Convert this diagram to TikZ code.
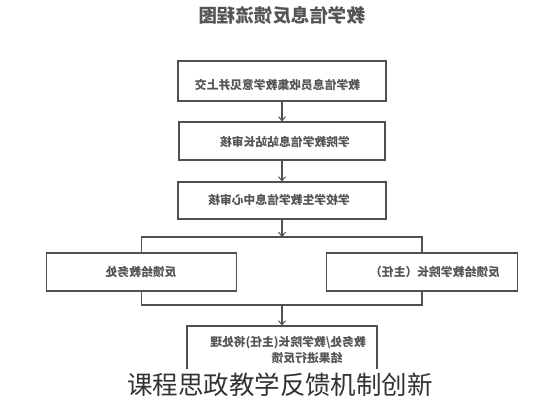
\documentclass[tikz,border=0pt]{standalone}
\usepackage{graphicx}
\usepackage{fontspec}
\setmainfont{Noto Sans CJK SC}
\usetikzlibrary{arrows.meta}
\definecolor{linegray}{HTML}{505050}
\definecolor{txtgray}{HTML}{555555}
\definecolor{capgray}{HTML}{333333}
\begin{document}
\begin{tikzpicture}[x=1pt,y=-1pt,
  boxnode/.style={draw=linegray, line width=1.1pt, fill=white, inner sep=0pt},
  lbl/.style={text=txtgray, font=\fontsize{11.8}{14}\selectfont\bfseries, inner sep=0pt},
  conn/.style={draw=linegray, line width=1.1pt},
  arr/.style={conn, -{Straight Barb[length=4pt,width=7pt,line width=1pt]}}]
\useasboundingbox (0,0) rectangle (560,400);
% title
\node[text=txtgray, font=\fontsize{18.5}{22}\selectfont\bfseries, inner sep=0pt] (title) at (282,15) {\reflectbox{教学信息反馈流程图}};
% boxes
\node[boxnode, minimum width=208pt, minimum height=40pt] (b1) at (282,81) {};
\node[boxnode, minimum width=206pt, minimum height=38pt] (b2) at (282,141) {};
\node[boxnode, minimum width=208pt, minimum height=37pt] (b3) at (282,200.5) {};
\node[boxnode, minimum width=190pt, minimum height=38pt] (lb) at (141.5,272) {};
\node[boxnode, minimum width=191pt, minimum height=38pt] (rb) at (422,272) {};
\node[boxnode, minimum width=190pt, minimum height=60pt] (bb) at (282,356) {};
% labels
\node[lbl] (t1) at (277.5,85) {\reflectbox{教学信息员收集教学意见并上交}};
\node[lbl] (t2) at (285,142) {\reflectbox{学院教学信息站站长审核}};
\node[lbl] (t3) at (279,200) {\reflectbox{学校学生教学信息中心审核}};
\node[lbl] (t4) at (141,272) {\reflectbox{反馈给教务处}};
\node[lbl] (t5) at (435,272) {\reflectbox{反馈给教学院长（主任）}};
\node[lbl] (t6) at (288,343) {\reflectbox{教务处/教学院长(主任)将处理}};
\node[lbl] (t7) at (307,358) {\reflectbox{结果进行反馈}};
% connectors
\coordinate (j1) at (282,237);
\coordinate (j2) at (282,305);
\draw[arr] (b1.south) -- (b2.north);
\draw[arr] (b2.south) -- (b3.north);
\draw[arr] (b3.south) -- (j1);
\draw[conn] (lb.north) |- (j1) -| (rb.north);
\draw[conn] (lb.south) |- (j2) -| (rb.south);
\draw[arr] (j2) -- (bb.north);
% caption
\node[fill=white, text=capgray, font=\fontsize{25.5}{30}\selectfont, inner xsep=4pt, inner ysep=2pt, minimum height=31pt] (cap) at (280,384.5) {课程思政教学反馈机制创新};
\end{tikzpicture}
\end{document}
